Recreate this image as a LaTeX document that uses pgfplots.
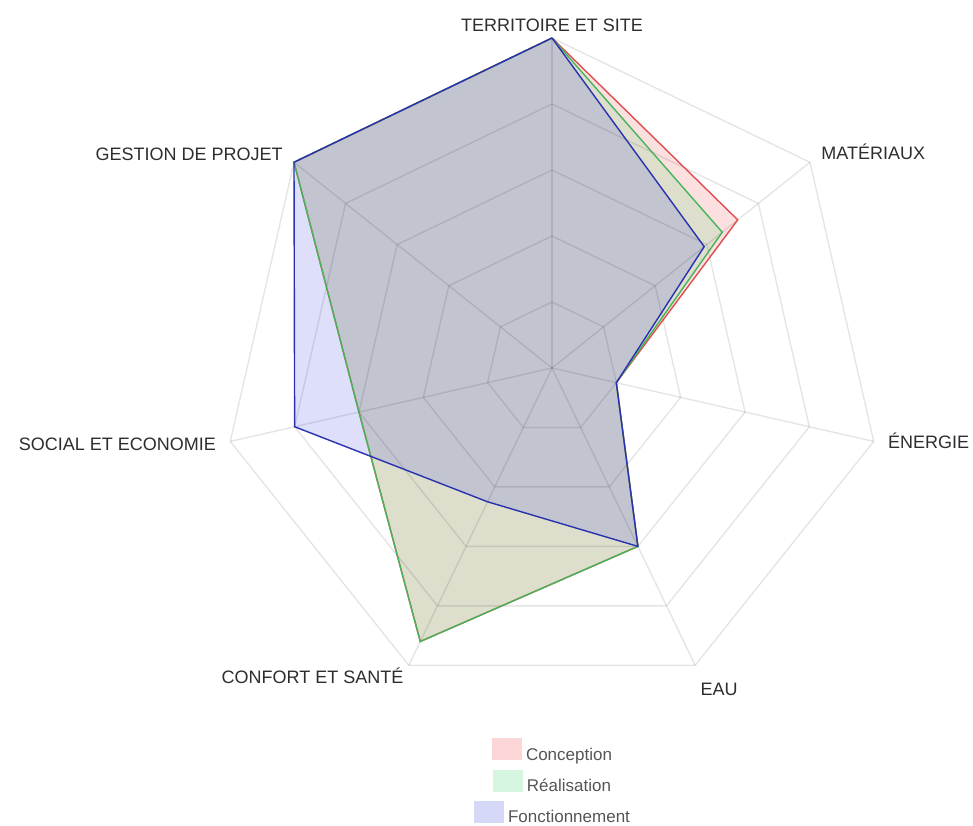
\documentclass[border=0pt]{standalone}
\usepackage{pgfplots}
\usepackage{pgfplotstable}
\pgfplotsset{compat=1.18}
\usepgfplotslibrary{polar}
\usepackage{fontspec}
\setmainfont{Liberation Sans}

\definecolor{concline}{RGB}{222,80,80}
\definecolor{concfill}{RGB}{240,70,70}
\definecolor{realline}{RGB}{70,180,90}
\definecolor{realfill}{RGB}{70,215,110}
\definecolor{foncline}{RGB}{40,50,175}
\definecolor{foncfill}{RGB}{70,80,225}
\definecolor{labeltext}{RGB}{45,45,45}
\definecolor{legtext}{RGB}{85,85,85}

\tikzset{lab/.style={font=\fontsize{9}{11}\selectfont, text=labeltext, inner sep=0pt}}

% angle (deg), values on a 0..1 scale
\pgfplotstableread{
angle     conc  real  fonc
90        1.00  1.00  1.00
38.571    0.72  0.66  0.59
-12.857   0.20  0.20  0.20
-64.286   0.60  0.60  0.60
-115.714  0.92  0.92  0.45
-167.143  0.60  0.60  0.80
-218.571  1.00  1.00  1.00
-270      1.00  1.00  1.00
}\scores

\begin{document}
\begin{tikzpicture}
\begin{polaraxis}[
    scale only axis,
    width=330pt, height=330pt,
    ymin=0, ymax=1,
    hide axis,
    clip=false,
    every axis plot/.append style={line join=miter},
]
\coordinate (c) at (axis cs:0,0);

% filled areas
\addplot[draw=none, fill=concfill, fill opacity=0.17, forget plot] table[x=angle, y=conc] {\scores};
\addplot[draw=none, fill=realfill, fill opacity=0.17, forget plot] table[x=angle, y=real] {\scores};
\addplot[draw=none, fill=foncfill, fill opacity=0.18, forget plot] table[x=angle, y=fonc] {\scores};

% web grid
\pgfplotsinvokeforeach{0.2,0.4,0.6,0.8,1.0}{
  \addplot[black, draw opacity=0.1, line width=0.7pt, forget plot]
    coordinates {(90,#1)(38.571,#1)(-12.857,#1)(-64.286,#1)(-115.714,#1)(-167.143,#1)(-218.571,#1)(-270,#1)};
}
\pgfplotsinvokeforeach{90,38.571,-12.857,-64.286,-115.714,-167.143,-218.571}{
  \addplot[black, draw opacity=0.1, line width=0.7pt, forget plot]
    coordinates {(#1,0)(#1,1)};
}

% outlines
\addplot[concline, line width=0.7pt, forget plot] table[x=angle, y=conc] {\scores};
\addplot[realline, line width=0.7pt, forget plot] table[x=angle, y=real] {\scores};
\addplot[foncline, line width=0.7pt, forget plot] table[x=angle, y=fonc] {\scores};

% axis names
\node[lab, anchor=south, yshift=3pt] at (axis cs:90,1) {TERRITOIRE ET SITE};
\node[lab, anchor=base west, xshift=5.5pt, yshift=1.5pt] at (axis cs:38.571,1) {MATÉRIAUX};
\node[lab, anchor=base west, xshift=7pt, yshift=-3.5pt] at (axis cs:-12.857,1) {ÉNERGIE};
\node[lab, anchor=base west, xshift=2.5pt, yshift=-15pt] at (axis cs:-64.286,1) {EAU};
\node[lab, anchor=base east, xshift=-2.5pt, yshift=-9pt] at (axis cs:-115.714,1) {CONFORT ET SANTÉ};
\node[lab, anchor=base east, xshift=-7pt, yshift=-4.5pt] at (axis cs:-167.143,1) {SOCIAL ET ECONOMIE};
\node[lab, anchor=base east, xshift=-5.5pt, yshift=1pt] at (axis cs:-218.571,1) {GESTION DE PROJET};
\end{polaraxis}

% legend, each row centred under the chart
\begin{scope}[every node/.style={font=\fontsize{8.5}{10}\selectfont, text=legtext, inner sep=0pt}]
\node at ([yshift=-191.5pt]c) {\tikz\fill[concfill!22] (0,0) rectangle (15pt,11pt);\hspace{2pt}Conception};
\node at ([yshift=-206.5pt]c) {\tikz\fill[realfill!22] (0,0) rectangle (15pt,11pt);\hspace{2pt}Réalisation};
\node at ([yshift=-222pt]c) {\tikz\fill[foncfill!22] (0,0) rectangle (15pt,11pt);\hspace{2pt}Fonctionnement};
\end{scope}

\pgfresetboundingbox
\useasboundingbox (c) ++(-276pt,184pt) rectangle ++(486.5pt,-412.5pt);
\end{tikzpicture}
\end{document}
